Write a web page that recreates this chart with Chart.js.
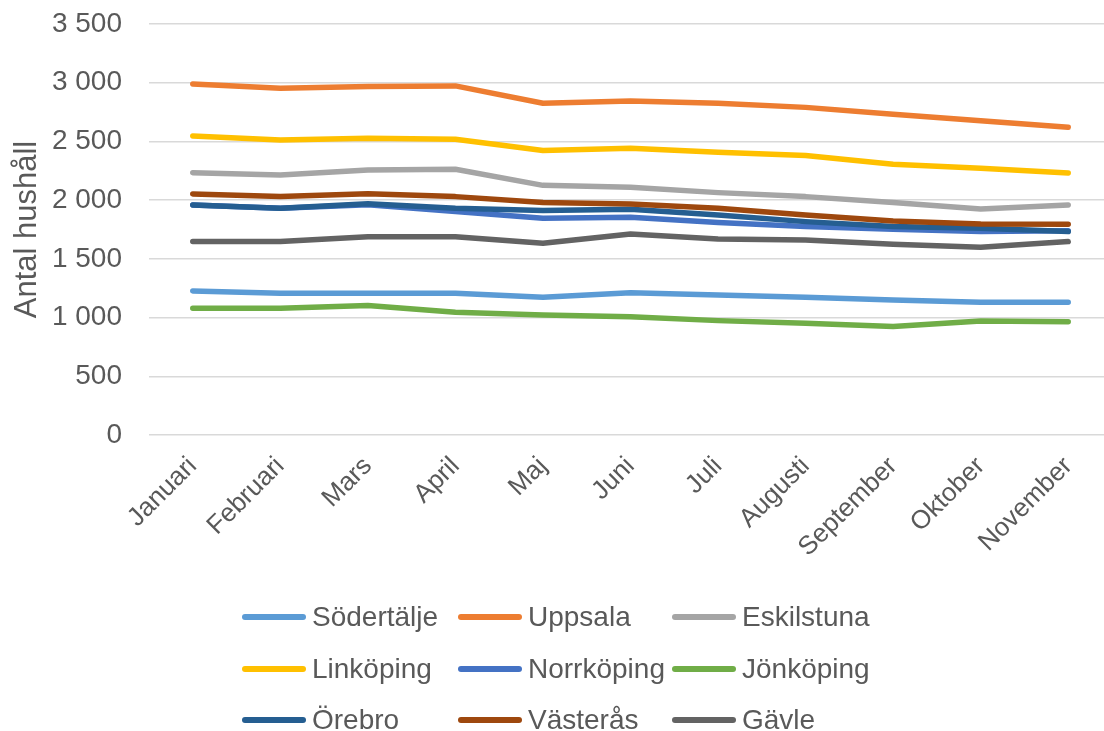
<!DOCTYPE html>
<html>
<head>
<meta charset="utf-8">
<script src="https://cdn.jsdelivr.net/npm/chart.js@4"></script>
<style>
  html, body { margin:0; padding:0; background:#fff; overflow:hidden; }
  #wrap { position:relative; width:1104px; height:731px; overflow:hidden; }
  #c { position:absolute; left:0; top:0; }
  .lg { position:absolute; height:40px; display:flex; align-items:center; font-family:"Liberation Sans", Arial, sans-serif; font-size:28px; color:#595959; white-space:nowrap; }
  .lg .sw { width:64px; height:6px; border-radius:3px; margin-right:6px; }
</style>
</head>
<body>
<div id="wrap">
  <canvas id="c" width="1112" height="731" style="width:1112px;height:731px"></canvas>
</div>
<script>
const months = ["Januari","Februari","Mars","April","Maj","Juni","Juli","Augusti","September","Oktober","November"];
const seriesNames = ["Södertälje","Uppsala","Eskilstuna","Linköping","Norrköping","Jönköping","Örebro","Västerås","Gävle"];
const sodertalje = [1227,1207,1207,1207,1173,1212,1193,1173,1150,1130,1130];
const uppsala    = [2990,2953,2967,2973,2825,2845,2825,2790,2731,2676,2620];
const eskilstuna = [2234,2215,2257,2263,2126,2110,2064,2030,1979,1925,1959];
const linkoping  = [2547,2513,2527,2518,2422,2442,2408,2380,2306,2272,2232];
const norrkoping = [1959,1931,1960,1903,1846,1854,1809,1775,1752,1732,1740];
const jonkoping  = [1079,1079,1102,1045,1022,1008,974,951,923,971,965];
const orebro     = [1959,1931,1970,1931,1911,1922,1874,1817,1775,1760,1732];
const vasteras   = [2053,2030,2055,2030,1979,1968,1931,1874,1823,1797,1794];
const gavle      = [1647,1647,1689,1689,1633,1712,1669,1661,1624,1598,1647];
const yTickMin = 0, yTickMax = 3500, yTickStep = 500;

const seriesValues = [sodertalje,uppsala,eskilstuna,linkoping,norrkoping,jonkoping,orebro,vasteras,gavle];
const colors = ["#5B9BD5","#ED7D31","#A5A5A5","#FFC000","#4472C4","#70AD47","#255E91","#9E480E","#636363"];

const FONT = '"Liberation Sans", Arial, sans-serif';
const TXT = '#595959';

const datasets = seriesNames.map((n,i)=>({
  label:n, data:seriesValues[i], borderColor:colors[i], backgroundColor:colors[i],
  borderWidth:5.5, pointRadius:0, pointHoverRadius:0, tension:0, fill:false,
  borderCapStyle:'round', borderJoinStyle:'round', order:-i
}));

new Chart(document.getElementById('c'), {
  type:'line',
  data:{ labels:months, datasets },
  options:{
    responsive:false, devicePixelRatio:1, animation:false,
    layout:{ padding:{ left:0, right:0, top:24, bottom:156 } },
    plugins:{ legend:{ display:false }, tooltip:{ enabled:false } },
    scales:{
      x:{
        offset:true,
        grid:{ display:false, drawTicks:false },
        border:{ display:false },
        ticks:{ color:TXT, font:{ family:FONT, size:26 }, maxRotation:45, minRotation:45, padding:16, autoSkip:false },
        afterFit:(s)=>{ s.height = 140; s.paddingLeft = 0; s.paddingRight = 0; }
      },
      y:{
        min:yTickMin, max:yTickMax,
        grid:{ color:'#d9d9d9', lineWidth:1.5, drawTicks:false },
        border:{ display:false },
        ticks:{ stepSize:yTickStep, color:TXT, font:{ family:FONT, size:28 }, padding:27,
          callback:(v)=> String(v).replace(/\B(?=(\d{3})+(?!\d))/g,' ') },
        title:{ display:true, text:'Antal hushåll', color:TXT, font:{ family:FONT, size:31 }, padding:{ top:9, bottom:0 } },
        afterFit:(s)=>{ s.width = 149; s.paddingTop = 0; s.paddingBottom = 0; }
      }
    }
  }
});

// legend (3 columns x 3 rows)
const wrap = document.getElementById('wrap');
const colX = [242, 458, 672];
const rowY = [617, 669, 720];
seriesNames.forEach((n,i)=>{
  const d = document.createElement('div');
  d.className = 'lg';
  d.style.left = colX[i%3] + 'px';
  d.style.top = (rowY[Math.floor(i/3)] - 20) + 'px';
  const sw = document.createElement('div'); sw.className='sw'; sw.style.background = colors[i];
  const t = document.createElement('span'); t.textContent = n;
  d.appendChild(sw); d.appendChild(t);
  wrap.appendChild(d);
});
</script>
</body>
</html>
